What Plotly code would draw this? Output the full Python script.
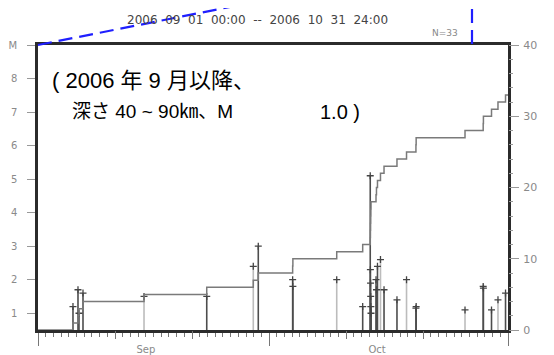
import numpy as np
import pandas as pd
import plotly.graph_objects as go

# ---------------- data ----------------
period_start = "2006-09-01"
period_end = "2006-11-01"
title_text = "2006  09  01  00:00  --  2006  10  31  24:00"
count_text = "N=33"
note_line1 = "( 2006 年 9 月以降、"
note_line2_head = "深さ 40 ~ 90㎞、M"
note_line2_tail = "1.0 )"

# elapsed days since 2006-09-01 00:00 of each event
event_days = [4.54, 5.19, 5.32, 5.84, 13.76, 21.90, 27.94, 28.59, 33.05, 33.08,
              38.77, 42.14, 43.12, 43.14, 43.16, 43.18, 43.20, 43.22, 43.87, 43.93,
              44.06, 44.45, 44.91, 46.59, 47.83, 49.05, 49.08, 55.42, 57.78, 57.81,
              58.86, 59.70, 60.68]
event_mag = [1.2, 1.7, 1.0, 1.6, 1.5, 1.5, 2.4, 3.0, 2.0, 1.8,
             2.0, 1.2, 5.1, 2.3, 1.9, 1.5, 1.2, 1.0, 2.0, 1.7,
             2.4, 2.6, 1.7, 1.4, 2.0, 1.15, 1.2, 1.1, 1.8, 1.75,
             1.1, 1.4, 1.6]
stem_tone = ["dark", "dark", "dark", "dark", "light", "dark", "light", "dark", "dark", "dark",
             "light", "dark", "dark", "dark", "dark", "dark", "dark", "dark", "dark", "dark",
             "dark", "light", "dark", "dark", "light", "dark", "dark", "light", "dark", "dark",
             "dark", "light", "dark"]

mag_ticks = [1, 2, 3, 4, 5, 6, 7, 8, 9]
mag_tick_text = ["1", "2", "3", "4", "5", "6", "7", "8", "M"]
month_starts = ["2006-09-01", "2006-10-01", "2006-11-01"]
decade_ticks = ["2006-09-11", "2006-09-21", "2006-10-11", "2006-10-21"]
month_label_pos = ["2006-09-15", "2006-10-15"]
month_labels = ["Sep", "Oct"]
mag_floor = 0.5
mag_top = 9
count_top = 40

# ---------------- derived ----------------
t0 = pd.Timestamp(period_start)
times = t0 + pd.to_timedelta(np.array(event_days), unit="D")
order = np.argsort(np.array(event_days))
times_sorted = times[order]
cum = np.arange(1, len(event_days) + 1)

# page body has an 8px margin; figure is sized so the page fits the window
BODY = 8
W, H = 554 - BODY, 355 - BODY
PLOT_L, PLOT_T, PLOT_W, PLOT_H = 38, 45, 470, 285   # window coordinates of plot area
ML, MT = PLOT_L - BODY, PLOT_T - BODY
MR = W - ML - PLOT_W
MB = H - MT - PLOT_H


def px(x):
    return (x - PLOT_L) / PLOT_W


def py(y):
    return (PLOT_T + PLOT_H - y) / PLOT_H


fig = go.Figure()

colors = {"dark": "#4d4d4d", "light": "#bcbcbc"}
for tone in ["light", "dark"]:
    idx = [i for i, s in enumerate(stem_tone) if s == tone]
    xs = [times[i] for i in idx]
    ys = [event_mag[i] for i in idx]
    fig.add_trace(go.Scatter(
        x=xs, y=ys, mode="markers", xaxis="x", yaxis="y",
        marker=dict(symbol="cross-thin", size=5, line=dict(width=1.3, color="#444")),
        error_y=dict(type="data", symmetric=False, array=[0] * len(ys),
                     arrayminus=[v - mag_floor for v in ys], width=0,
                     thickness=1.6, color=colors[tone]),
        showlegend=False, hoverinfo="skip"))

# cumulative count (step)
cx = [t0] + list(times_sorted) + [pd.Timestamp(period_end)]
cy = [0] + list(cum) + [cum[-1]]
fig.add_trace(go.Scatter(x=cx, y=cy, mode="lines", line=dict(shape="hv", color="#7a7a7a", width=1.5),
                         xaxis="x", yaxis="y2", showlegend=False, hoverinfo="skip"))

# helper traces for overlay axes
fig.add_trace(go.Scatter(x=[], y=[], xaxis="x2", yaxis="y", showlegend=False, hoverinfo="skip"))
fig.add_trace(go.Scatter(x=[], y=[], xaxis="x3", yaxis="y", showlegend=False, hoverinfo="skip"))

tickfont = dict(family="DejaVu Sans", size=10, color="#8a8a8a")
frame = dict(showline=True, linecolor="#2b2b2b", linewidth=2.5, mirror=True)

fig.update_layout(
    width=W, height=H, margin=dict(l=ML, r=MR, t=MT, b=MB, autoexpand=False),
    paper_bgcolor="white", plot_bgcolor="white",
    xaxis=dict(type="date", range=[period_start, period_end], tickmode="array", tickvals=month_starts,
               ticks="outside", ticklen=13, tickwidth=1, tickcolor="#777", showticklabels=False,
               showgrid=False, zeroline=False,
               minor=dict(ticks="outside", ticklen=4, tickcolor="#777", tickwidth=1,
                          tick0=period_start, dtick=86400000, showgrid=False),
               **frame),
    xaxis2=dict(type="date", range=[period_start, period_end], overlaying="x", tickmode="array",
                tickvals=decade_ticks, ticks="outside", ticklen=8, tickwidth=1, tickcolor="#777",
                showticklabels=False, showgrid=False, zeroline=False, showline=False),
    xaxis3=dict(type="date", range=[period_start, period_end], overlaying="x", tickmode="array",
                tickvals=month_label_pos, ticktext=month_labels, ticks="", tickfont=tickfont,
                ticklabelstandoff=12, showgrid=False, zeroline=False, showline=False),
    yaxis=dict(range=[mag_floor, mag_top], tickmode="array", tickvals=mag_ticks, ticktext=mag_tick_text,
               ticks="outside", ticklen=8, tickwidth=1, tickcolor="#999", tickfont=tickfont,
               ticklabelstandoff=8, showgrid=False, zeroline=False, **frame),
    yaxis2=dict(range=[0, count_top], overlaying="y", side="right", dtick=10, tick0=0,
                ticks="outside", ticklen=10, tickwidth=1, tickcolor="#999",
                tickfont=dict(family="DejaVu Sans", size=11, color="#8a8a8a"),
                ticklabelstandoff=2, showgrid=False, zeroline=False, showline=False,
                minor=dict(ticks="outside", ticklen=4, dtick=2, tickcolor="#999")),
)

jp = "Liberation Sans, Noto Sans CJK JP"
fig.add_annotation(x=px(257), y=py(20), xref="paper", yref="paper", text=title_text, showarrow=False,
                   font=dict(family="DejaVu Sans", size=12, color="#444"), xanchor="center", yanchor="middle")
fig.add_annotation(x=px(460), y=py(33), xref="paper", yref="paper", text=count_text, showarrow=False,
                   font=dict(family="DejaVu Sans", size=9, color="#888"), xanchor="right", yanchor="middle")
fig.add_annotation(x=px(50), y=py(81), xref="paper", yref="paper", text=note_line1, showarrow=False,
                   font=dict(family=jp, size=22, color="black"), xanchor="left", yanchor="middle")
fig.add_annotation(x=px(70), y=py(112), xref="paper", yref="paper", text=note_line2_head, showarrow=False,
                   font=dict(family=jp, size=19, color="black"), xanchor="left", yanchor="middle")
fig.add_annotation(x=px(362), y=py(112), xref="paper", yref="paper", text=note_line2_tail, showarrow=False,
                   font=dict(family=jp, size=20, color="black"), xanchor="right", yanchor="middle")

blue = dict(color="#1f1fff", width=2.2, dash="14px,7px")
fig.add_shape(type="line", xref="paper", yref="paper", x0=px(38), y0=py(45), x1=px(270), y1=py(-1), line=blue)
fig.add_shape(type="line", xref="paper", yref="paper", x0=px(472), y0=py(44), x1=px(472), y1=py(-1), line=blue)

fig.write_html("out.html")
